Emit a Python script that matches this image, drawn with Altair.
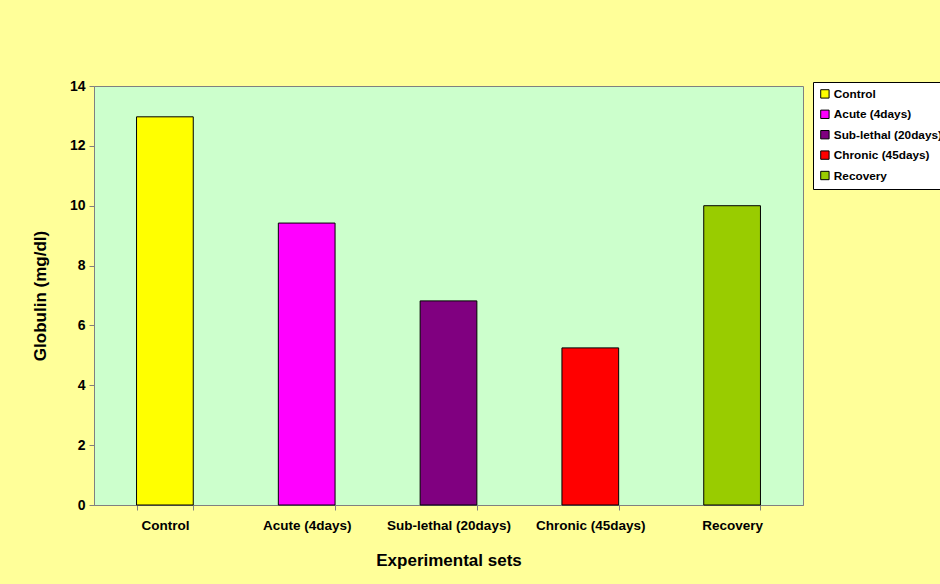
import altair as alt
import pandas as pd

categories = ["Control", "Acute (4days)", "Sub-lethal (20days)", "Chronic (45days)", "Recovery"]
values = [12.97, 9.42, 6.82, 5.25, 10.0]
colors = ["#FFFF00", "#FF00FF", "#800080", "#FF0000", "#99CC00"]
y_ticks = [0, 2, 4, 6, 8, 10, 12, 14]

df = pd.DataFrame({"set": categories, "value": values})

font = "Liberation Sans"

chart = alt.Chart(df).mark_bar(stroke="black", strokeWidth=1).encode(
    x=alt.X("set:N", sort=categories,
            scale=alt.Scale(paddingInner=0.6, paddingOuter=0.3),
            axis=alt.Axis(title="Experimental sets", labelAngle=0, tickBand="extent",
                          labelFont=font, labelFontWeight="bold", labelFontSize=13.5,
                          labelColor="black", labelPadding=8,
                          titleFont=font, titleFontWeight="bold", titleFontSize=17,
                          titleColor="black", titlePadding=21,
                          domainColor="#808080", tickColor="#808080", tickSize=5)),
    y=alt.Y("value:Q", scale=alt.Scale(domain=[0, 14], nice=False),
            axis=alt.Axis(title="Globulin (mg/dl)", values=y_ticks, grid=False,
                          labelFont=font, labelFontWeight="bold", labelFontSize=14,
                          labelColor="black", labelPadding=4,
                          titleFont=font, titleFontWeight="bold", titleFontSize=17,
                          titleColor="black", titlePadding=20,
                          domainColor="#808080", tickColor="#808080", tickSize=5)),
    color=alt.Color("set:N", sort=categories,
                    scale=alt.Scale(domain=categories, range=colors),
                    legend=alt.Legend(title=None, orient="none", legendX=719, legendY=-4,
                                      symbolType="square", symbolSize=70,
                                      symbolStrokeColor="black", symbolStrokeWidth=1,
                                      labelFont=font, labelFontWeight="bold", labelFontSize=11.8,
                                      labelColor="black", rowPadding=6.4, labelOffset=3,
                                      fillColor="white", strokeColor="black", padding=6)),
).properties(
    width=709, height=419,
    background="#FFFF99",
    padding={"left": 94, "top": 86, "right": 137, "bottom": 79},
    autosize=alt.AutoSizeParams(type="none"),
).configure_view(fill="#CCFFCC", stroke="#808080", strokeWidth=1)

chart.save("out.html", embed_options={"renderer": "svg", "actions": False})
